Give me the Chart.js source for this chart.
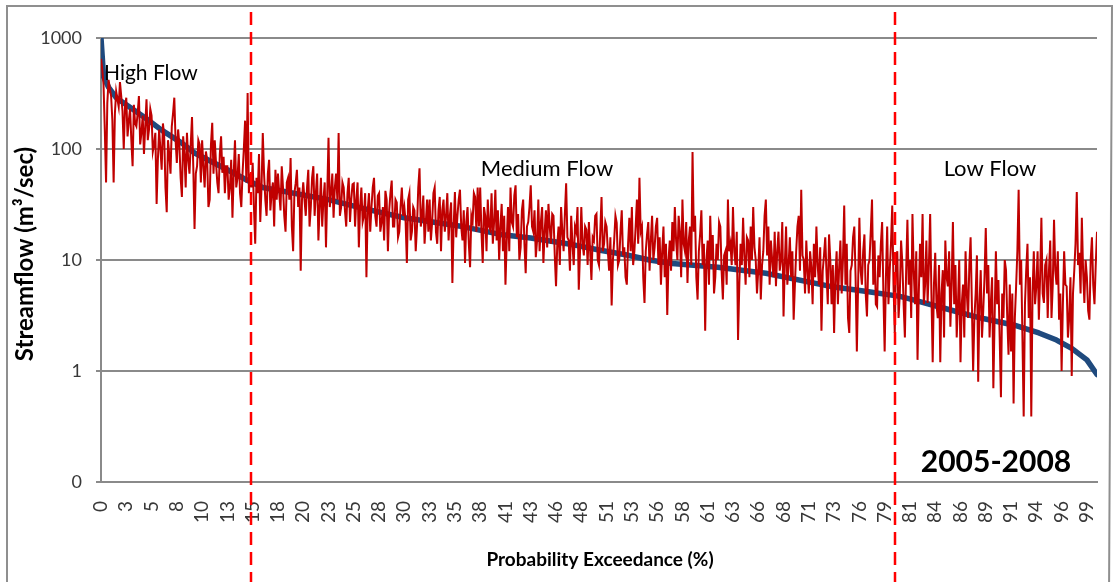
<!DOCTYPE html>
<html>
<head>
<meta charset="utf-8">
<script src="https://cdn.jsdelivr.net/npm/chart.js@4/dist/chart.umd.min.js"></script>
<style>
html,body{margin:0;padding:0;background:#fff;}
#wrap{position:relative;width:1115px;height:582px;}
</style>
</head>
<body>
<div id="wrap"><canvas id="c" width="1115" height="582"></canvas></div>
<script>
// ---------- DATA ----------
const xTickLabels = ['0','3','5','8','10','13','15','18','20','23','25','28','30','33','35','38','41','43','46','48','51','53','56','58','61','63','66','68','71','73','76','79','81','84','86','89','91','94','96','99'];
const labelStep = 20; // points between labelled categories
const yTickValues = [0.1, 1, 10, 100, 1000];
const yTickLabels = ['0', '1', '10', '100', '1000'];

// daily streamflow (red), in exceedance order
const dailyFlow = [
650,520,380,150,50,260,420,350,300,180,50,210,330,280,240,400,300,220,100,240,
290,130,180,230,120,70,250,170,160,210,300,110,140,200,90,160,280,120,150,230,
200,95,110,140,32,80,150,100,65,170,130,45,27,120,90,60,160,210,290,120,
75,150,110,55,37,130,90,45,140,80,60,110,194,70,19,60,70,120,110,50,
120,70,45,95,80,30,35,110,172,60,120,75,50,40,90,130,61,85,40,70,
70,35,45,80,24,60,120,45,55,90,40,30,61,100,180,50,320,40,60,45,
75,30,14,55,40,90,22,45,139,60,35,25,60,80,28,40,50,20,65,35,
60,40,28,70,45,25,18,50,55,35,83,20,12,40,49,65,30,45,8,35,
50,35,25,45,65,20,30,55,70,25,40,60,15,30,55,20,35,50,13,40,
126,30,40,60,24,45,60,35,139,25,30,50,45,28,20,40,55,22,35,48,
49,20,35,50,13,30,45,22,25,40,7,28,40,18,30,45,55,25,20,38,
40,18,22,30,15,42,35,12,28,40,52,20,20,35,33,16,18,30,45,25,
30,22,9.4,35,40,15,18,30,28,12,20,45,67,20,25,38,14,22,35,18,
35,15,22,40,45,18,14,28,37,12,28,35,18,25,40,15,25,33,6.2,20,
41,16,25,35,43,20,15,28,9.4,22,30,14,8.6,25,22,40,37,18,45,20,
45,18,9.4,30,25,12,35,20,18.7,40,14,22,43,15,28,10,20,32,12,25,
6,15,30,12,45,22,20,38,47,16,26,10,13,28,35,14,7.6,20,22,30,
47,20,18,28,10.6,15,35,12,22,30,9.4,18,28,13,32,20,14,26,25,11,
5.8,14,20,9,30,18,12,26,49,16,15,8,25,14,9,20,18,30,5.4,12,
30,14,11,20,18.7,9,22,12,6.6,16,15,25,26,10,9,18,37,12,14,22,
20,12,8,16,3.9,10,15,25,21.6,9,10,18,28,11,13,7,6,14,24,12,
30,9,12,20,35,14,55,18,20,7,4.1,12,17,22,8,15,25,10,13,20,
24,9,16,6,12,20,7,14,3.2,10,15,8,22,12,30,15,10,25,18,7,
35,14,12,22,6.2,15,20,9,94,18,25,7,4.4,12,17,28,9,14,2.3,10,
15,6,25,10,16.8,5,7,14,10,22,20,8,4.4,11,12,6,35,12,14,9,
30,12,9,18,1.9,6,14,9,24,11,6,16,15,7,20,10,30,13,10,5,
8.1,16,4.4,9,12,25,35,11,20,6,15,10,7,18,5.8,12,18,8,10,22,
3.1,9,20,6,9,16,7,12,2.9,6,12,20,25,8,43,11,10,5,15,8,
5,12,8.6,4,14,7,20,9,6,13,2.3,8,11,16,7.6,4,17,10,4,9,
2.2,7,12,4,8.6,15,5,10,31,6,14,3,2.2,8,9,16,20,7,1.5,6,
24,8,6,12,17,5,3.1,9,10,18,35,6,15,4,3.8,11,7,14,22,5,
1.5,7,20,4,8,14,31,6,2.2,10,12,3,5,15,9.4,4,2.0,8,23,6,
10,3,26,8,4,12,1.26,5,14,7,26,4,6,15,4.1,9,26,5,1.2,6,
11.6,4,3,9,1.2,5,8.1,2,15,7,5.8,12,2.5,6,22,4,9,2,4,10,
1.2,4,6,2,12,5,3,9,16,4,1.0,3,5,11,0.8,4,8.1,2,3.5,7,
19.4,5,9,2,4.1,7,0.7,3,12,4,6.6,2,0.58,5,3,10,8.1,3,1.4,6,
1.5,5,0.51,3,5.8,12,43,6,10,2,0.39,4,8.1,14,3,7,0.39,5,12,4,
5.8,12,2.9,7,24,5,4.1,9,10,3,8.1,15,3,6,23,8,6,12,2.9,5,
1.0,4,12,6,5.8,2,3,7,0.9,5,8,14,41,9,11.6,5,24,8,4.1,10,
7,3.5,2.9,10,16,6,4,9,18
];

// flow duration curve (blue): point positions and values
const curveIdx = [0,2,6,12,34,48,64,74,100,116,128,180,208,240,286,316,340,374,394,416,434,452,488,526,580,606,632,642,670,696,722,742,756,768,780,788];
const curveVal = [1000,450,360,290,194,148,113,92,65,52,45,35,29,24,20,17,15.8,13.7,12.3,11.1,10,9.3,8.6,7.6,5.7,5.2,4.7,4.4,3.6,3.0,2.6,2.2,1.9,1.6,1.26,0.93];

const thresholds = [118.7, 628.2]; // high/medium and medium/low boundaries (point index)
const regionLabels = ['High Flow', 'Medium Flow', 'Low Flow'];
const periodLabel = '2005-2008';
const xTitle = 'Probability Exceedance (%)';
const yTitle = 'Streamflow (m\u00B3/sec)';

const GRID = '#8a8a8a';

const overlay = {
  id: 'overlay',
  afterDatasetsDraw(chart){
    const {ctx} = chart;
    const x = chart.scales.x;
    ctx.save();
    // threshold dashed lines
    ctx.strokeStyle = '#FF0000';
    ctx.lineWidth = 2.5;
    ctx.setLineDash([13, 7]);
    thresholds.forEach(t => {
      const px = Math.round(x.getPixelForValue(t));
      ctx.beginPath(); ctx.moveTo(px, 12); ctx.lineTo(px, 582); ctx.stroke();
    });
    ctx.setLineDash([]);
    // region labels
    ctx.fillStyle = '#000';
    ctx.textBaseline = 'alphabetic';
    ctx.font = '21px Lato';
    ctx.textAlign = 'left';
    ctx.fillText(regionLabels[0], 104, 80);
    ctx.font = '22px Lato';
    ctx.textAlign = 'center';
    ctx.fillText(regionLabels[1], 547, 176);
    ctx.fillText(regionLabels[2], 990, 176);
    ctx.font = 'bold 30px Lato';
    ctx.fillText(periodLabel, 996, 472);
    ctx.restore();
  },
  afterDraw(chart){
    const {ctx} = chart;
    ctx.save();
    // axis titles
    ctx.fillStyle = '#000';
    ctx.font = 'bold 19px Lato';
    ctx.textAlign = 'center';
    ctx.textBaseline = 'alphabetic';
    ctx.fillText(xTitle, 600, 566);
    ctx.translate(33, 254);
    ctx.rotate(-Math.PI / 2);
    ctx.font = 'bold 24px Lato';
    ctx.fillText(yTitle, 0, 0);
    ctx.restore();
    // outer frame
    ctx.save();
    ctx.strokeStyle = '#8f8f8f';
    ctx.lineWidth = 2;
    ctx.beginPath();
    ctx.moveTo(7, 600); ctx.lineTo(7, 6); ctx.lineTo(1112, 6); ctx.lineTo(1109, 600);
    ctx.stroke();
    ctx.restore();
  }
};

Chart.defaults.font.family = 'Lato';
Chart.defaults.color = '#383838';

new Chart(document.getElementById('c'), {
  type: 'line',
  data: {
    datasets: [
      {
        label: 'Daily flow',
        data: dailyFlow.map((v, i) => ({x: i, y: v})),
        borderColor: '#C00000',
        borderWidth: 2,
        pointRadius: 0,
        tension: 0,
        borderJoinStyle: 'miter'
      },
      {
        label: 'Flow duration curve',
        data: curveIdx.map((v, i) => ({x: v, y: curveVal[i]})),
        borderColor: '#1F4A7E',
        borderWidth: 5.5,
        pointRadius: 0,
        tension: 0,
        borderCapStyle: 'round',
        borderJoinStyle: 'round'
      }
    ]
  },
  options: {
    responsive: false,
    animation: false,
    devicePixelRatio: 1,
    events: [],
    layout: {padding: {left: 0, right: 18, top: 38, bottom: 0}},
    plugins: {legend: {display: false}, tooltip: {enabled: false}},
    scales: {
      x: {
        type: 'linear',
        min: 0,
        max: dailyFlow.length - 1,
        afterBuildTicks: s => { s.ticks = xTickLabels.map((l, i) => ({value: i * labelStep})); },
        afterFit: s => { s.height = 100; s.paddingLeft = 0; s.paddingRight = 0; },
        grid: {display: false, drawTicks: false},
        border: {display: true, color: GRID, width: 2},
        ticks: {
          autoSkip: false,
          maxRotation: 90,
          minRotation: 90,
          padding: 19,
          font: {size: 19},
          callback: v => xTickLabels[Math.round(v / labelStep)]
        }
      },
      y: {
        type: 'logarithmic',
        min: 0.1,
        max: 1000,
        afterBuildTicks: s => { s.ticks = yTickValues.map(v => ({value: v})); },
        afterFit: s => { s.width = 101; },
        grid: {color: GRID, lineWidth: 2, tickLength: 5, drawTicks: true},
        border: {display: true, color: GRID, width: 2},
        ticks: {
          autoSkip: false,
          padding: 14,
          font: {size: 18},
          callback: v => yTickLabels[yTickValues.indexOf(v)]
        }
      }
    }
  },
  plugins: [overlay]
});
</script>
</body>
</html>
